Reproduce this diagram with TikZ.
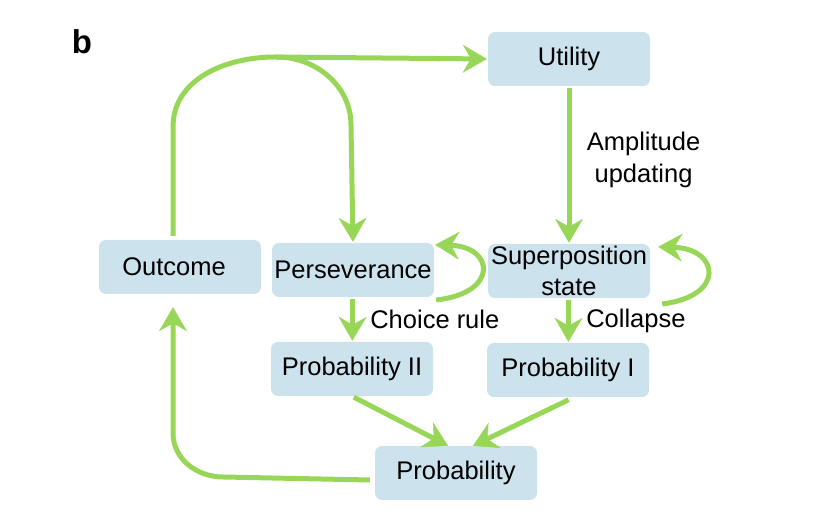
\documentclass[tikz,border=0pt]{standalone}
\usepackage{fontspec}
\setmainfont{Liberation Sans}
\usetikzlibrary{arrows.meta}
\definecolor{arrowgreen}{RGB}{152,214,88}
\definecolor{boxblue}{RGB}{204,226,236}

\begin{document}
\begin{tikzpicture}
	[x=1pt,y=1pt,->,>={Stealth[length=24pt,width=28pt,inset=8pt,line width=0.5pt]},
		shorten >=1pt,shorten <=2pt,auto,
		every edge/.style={draw=arrowgreen,line width=5pt},
		green line/.style={draw=arrowgreen,line width=5pt},
		box node/.style={rectangle,rounded corners=7pt,fill=boxblue,minimum width=162pt,minimum height=54pt,inner sep=1pt,align=center,font=\fontsize{25.5}{31}\selectfont},
		label node/.style={font=\fontsize{25.5}{32}\selectfont,align=center,xshift=12pt}]

	\useasboundingbox (0,0) rectangle (836,521);

	\node[font=\fontsize{33}{34}\selectfont\bfseries] (panel) at (82,479) {b};

	\node[box node] (utility)  at (569,462) {Utility};
	\node[box node] (outcome)  at (180,254) {Outcome\hspace*{12pt}};
	\node[box node] (persev)   at (353,251) {Perseverance};
	\node[box node] (superpos) at (569,250) {Superposition\\state};
	\node[box node] (probII)   at (352,152) {Probability II};
	\node[box node] (probI)    at (568,151) {Probability I};
	\node[box node] (prob)     at (456,48)  {Probability};
	\coordinate (fork) at (275,464);

	\path[]
	(utility) edge node[label node, pos=0.47] {Amplitude\\updating} (superpos)
	(persev) edge node[label node] {Choice rule} (probII)
	(superpos) edge node[label node] {Collapse} (probI)
	;

	% outcome feeds utility and perseverance
	\draw[green line, shorten <=4pt] ([xshift=-7pt]outcome.north) -- (173,394) to[out=90,in=180] (fork) -- (utility.west);
	\draw[green line] (fork) to[out=0,in=90] (351,396) -- (persev.north);

	% self loops
	\draw[green line] ([yshift=-3pt]persev.south east) .. controls +(65,7) and +(60,-2) .. ([yshift=-2pt]persev.north east);
	\draw[green line] ([shift={(10pt,-6pt)}]superpos.south east) .. controls +(66,8) and +(62,-2) .. ([shift={(7pt,-3pt)}]superpos.north east);

	\draw[green line, shorten >=0pt] (probII.south) -- ([xshift=-8pt]prob.north);
	\draw[green line, shorten <=6pt, shorten >=0pt] ([xshift=6pt]probI.south) -- ([xshift=17pt]prob.north);

	\draw[green line, shorten <=0pt, shorten >=13pt] ([shift={(-5pt,-7pt)}]prob.west) -- (223,44) to[out=180,in=-90] (173,88) -- ([xshift=-7pt]outcome.south);

\end{tikzpicture}
\end{document}
